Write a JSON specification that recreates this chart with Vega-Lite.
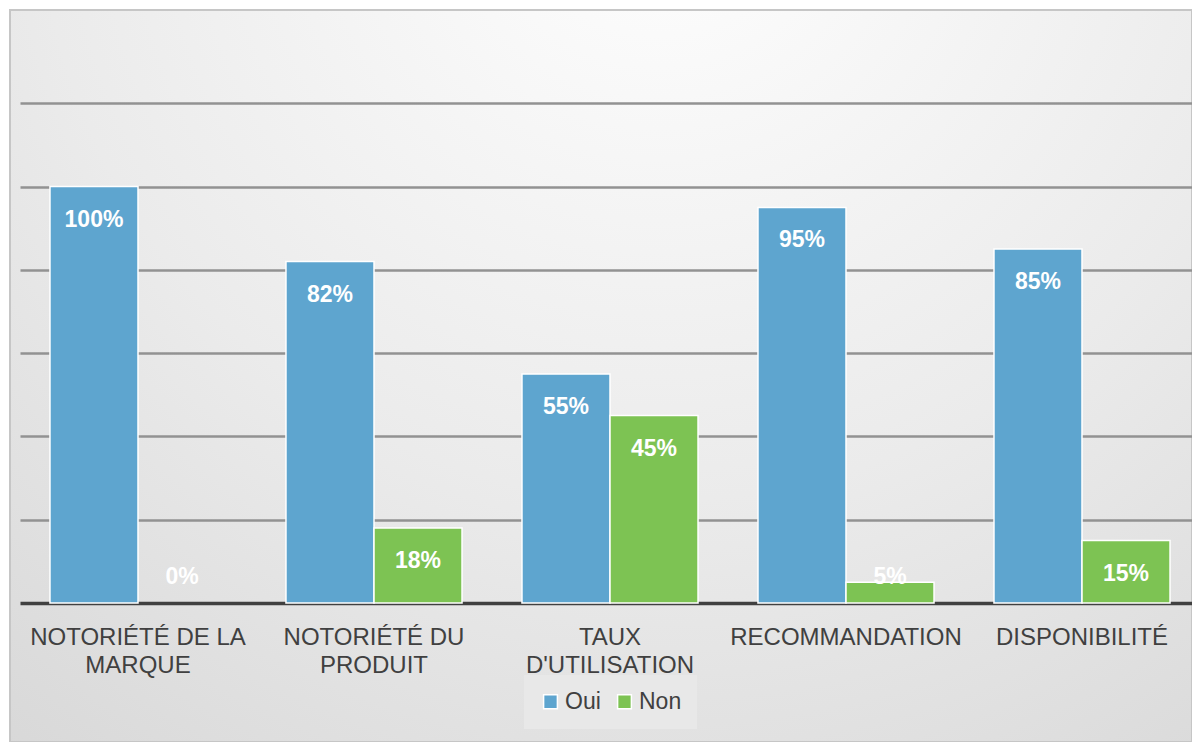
{
  "$schema": "https://vega.github.io/schema/vega-lite/v6.json",
  "width": 1182,
  "height": 732,
  "autosize": {"type": "none"},
  "padding": {"left": 10, "top": 10, "right": 0, "bottom": 0},
  "background": "#ffffff",
  "config": {
    "font": "Liberation Sans",
    "view": {
      "stroke": "#c6c6c6",
      "strokeWidth": 2,
      "fill": {
        "gradient": "radial",
        "x1": 0.55, "y1": 0.08, "x2": 0.55, "y2": 0.08,
        "r1": 0, "r2": 1.05,
        "stops": [
          {"offset": 0, "color": "#ffffff"},
          {"offset": 0.5, "color": "#ebebeb"},
          {"offset": 1, "color": "#d2d2d2"}
        ]
      }
    }
  },
  "data": {
    "values": [
      {"category": "NOTORIÉTÉ DE LA|MARQUE", "series": "Oui", "value": 100},
      {"category": "NOTORIÉTÉ DE LA|MARQUE", "series": "Non", "value": 0},
      {"category": "NOTORIÉTÉ DU|PRODUIT", "series": "Oui", "value": 82},
      {"category": "NOTORIÉTÉ DU|PRODUIT", "series": "Non", "value": 18},
      {"category": "TAUX|D'UTILISATION", "series": "Oui", "value": 55},
      {"category": "TAUX|D'UTILISATION", "series": "Non", "value": 45},
      {"category": "RECOMMANDATION", "series": "Oui", "value": 95},
      {"category": "RECOMMANDATION", "series": "Non", "value": 5},
      {"category": "DISPONIBILITÉ", "series": "Oui", "value": 85},
      {"category": "DISPONIBILITÉ", "series": "Non", "value": 15}
    ]
  },
  "encoding": {
    "x": {
      "field": "category",
      "type": "nominal",
      "sort": null,
      "scale": {"range": [10, 1190], "paddingInner": 0.254, "paddingOuter": 0.127},
      "axis": {
        "title": null,
        "offset": -139,
        "labelAngle": 0,
        "labelExpr": "split(datum.label, '|')",
        "labelFontSize": 24,
        "labelColor": "#404040",
        "labelLineHeight": 28,
        "labelBaseline": "top",
        "labelPadding": 22,
        "labelLimit": 0,
        "ticks": false,
        "domainColor": "#404040",
        "domainWidth": 3.5,
        "grid": false
      }
    },
    "xOffset": {
      "field": "series",
      "type": "nominal",
      "sort": ["Oui", "Non"],
      "scale": {"paddingInner": 0, "paddingOuter": 0}
    }
  },
  "layer": [
    {
      "mark": {"type": "bar", "stroke": "#ffffff", "strokeWidth": 1.5},
      "encoding": {
        "y": {
          "field": "value",
          "type": "quantitative",
          "scale": {"domain": [0, 140], "range": [593, 10], "nice": false, "zero": true},
          "axis": {
            "title": null,
            "labels": false,
            "ticks": false,
            "domain": false,
            "values": [20, 40, 60, 80, 100, 120],
            "grid": true,
            "gridColor": "#929292",
            "gridWidth": 2.5
          }
        },
        "strokeOpacity": {
          "condition": {"test": "datum.value === 0", "value": 0},
          "value": 1
        },
        "color": {
          "field": "series",
          "type": "nominal",
          "sort": ["Oui", "Non"],
          "scale": {"domain": ["Oui", "Non"], "range": ["#5ea5cf", "#7dc353"]},
          "legend": {
            "title": null,
            "orient": "none",
            "legendX": 514,
            "legendY": 665,
            "direction": "horizontal",
            "fillColor": "#e8e8e8",
            "padding": 15,
            "symbolType": "square",
            "symbolSize": 190,
            "symbolStrokeColor": "#ffffff",
            "symbolStrokeWidth": 1.5,
            "symbolOpacity": 1,
            "labelFontSize": 23,
            "labelColor": "#404040",
            "labelOffset": 3,
            "columnPadding": 12
          }
        }
      }
    },
    {
      "transform": [
        {"calculate": "max(datum.value, 14.2)", "as": "labelPos"},
        {"calculate": "datum.value + '%'", "as": "labelText"}
      ],
      "mark": {
        "type": "text",
        "color": "#ffffff",
        "fontWeight": "bold",
        "fontSize": 23,
        "baseline": "middle",
        "dy": 33
      },
      "encoding": {
        "y": {"field": "labelPos", "type": "quantitative"},
        "text": {"field": "labelText", "type": "nominal"},
        "detail": {"field": "series"}
      }
    }
  ]
}
